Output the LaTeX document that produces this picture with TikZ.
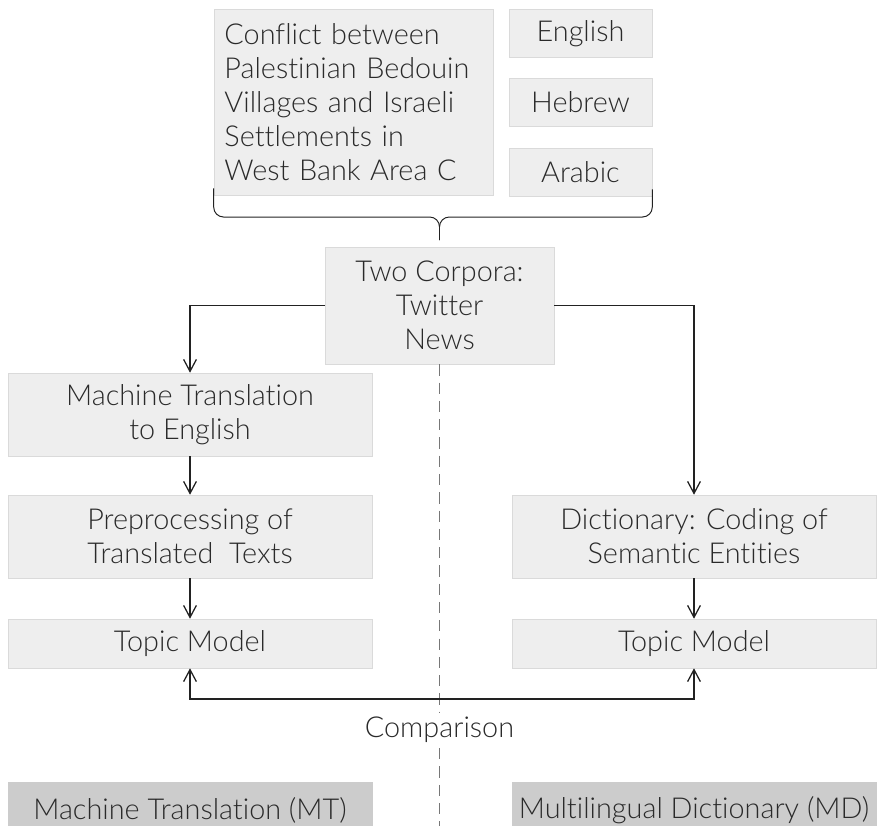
\documentclass[tikz,border=0pt]{standalone}
\usepackage{fontspec}
\setmainfont{Lato}[UprightFont=* Light, Ligatures=NoCommon]
\usepackage{xcolor}
\usetikzlibrary{arrows.meta, positioning}

\definecolor{boxgray}{HTML}{EEEEEE}
\definecolor{edgegray}{HTML}{DADADA}
\definecolor{labelgray}{HTML}{CCCCCC}
\definecolor{textgray}{HTML}{2A2A2A}
\definecolor{dashgray}{HTML}{777777}

\begin{document}
\begin{tikzpicture}[
    x=0.025cm, y=-0.025cm,
    block/.style={rectangle, draw=edgegray, fill=boxgray, text=textgray, align=center, inner sep=0pt, font=\fontsize{20.5}{24.2}\selectfont},
    lang/.style={block, minimum width=3.575cm, minimum height=1.2cm},
    wide/.style={block, minimum width=9.1cm, minimum height=2.075cm},
    model/.style={block, minimum width=9.1cm, minimum height=1.225cm},
    method/.style={block, draw=labelgray, fill=labelgray, minimum width=9.1cm, minimum height=1.4cm},
    arrow/.style={line width=0.9pt, textgray!80!black, -{Straight Barb[length=3mm, width=3.2mm]}},
    both/.style={arrow, {Straight Barb[length=3mm, width=3.2mm]}-{Straight Barb[length=3mm, width=3.2mm]}},
    divider/.style={dashgray, line width=0.6pt, dash pattern=on 8pt off 5pt},
    brace/.style={textgray!80!black, line width=0.7pt, rounded corners=7pt}
]
\useasboundingbox (0,0) rectangle (896,825);

% Top: sources and languages
\node [block, align=left, text width=6.45cm, minimum width=6.975cm, minimum height=4.65cm] (conflict) at (353.5,102)
    {Conflict between\\Palestinian Bedouin\\Villages and Israeli\\Settlements in\\West Bank Area C};
\node [lang] (english) at (580.5,33.5) {English};
\node [lang] (hebrew) at (580.5,102) {Hebrew};
\node [lang] (arabic) at (580.5,172) {Arabic};

% Brace
\coordinate (bracemid) at (439.5,217);
\coordinate (bracetip) at (439.5,240);
\draw [brace] ([yshift=5pt]conflict.south west) |- (bracemid) -- (bracetip);
\draw [brace] ([yshift=5pt]arabic.south east) |- (bracemid) -- (bracetip);

\node [block, minimum width=5.725cm, minimum height=2.925cm] (corpora) at (439.5,305.5) {Two Corpora:\\Twitter\\News};

% Left: machine translation
\node [wide] (translate) at (190,414.5) {Machine Translation\\to English};
\node [wide] (preproc) at (190,536.5) {Preprocessing of\\Translated~~Texts};
\node [model] (topicmt) at (190,643.5) {Topic Model};

% Right: dictionary
\node [wide] (dict) at (694,536.5) {Dictionary: Coding of\\Semantic Entities};
\node [model] (topicmd) at (694,643.5) {Topic Model};

% Divider
\coordinate (divend) at (439.5,840);
\draw [divider] (corpora.south) -- (divend);

\draw [arrow] (corpora.west) -| (translate.north);
\draw [arrow] (corpora.east) -| (dict.north);
\draw [arrow] (translate) -- (preproc);
\draw [arrow] (preproc) -- (topicmt);
\draw [arrow] (dict) -- (topicmd);

\coordinate (cmp) at (439.5,699);
\draw [both] (topicmt.south) |- (cmp) -| (topicmd.south);
\node [fill=white, text=textgray, inner sep=3pt, font=\fontsize{20.5}{24.2}\selectfont] (comparison) at (439.5,730) {Comparison};

% Bottom: method labels
\node [method] (mtlabel) at (190,810) {Machine Translation (MT)};
\node [method] (mdlabel) at (694,810) {Multilingual Dictionary (MD)};
\end{tikzpicture}
\end{document}
